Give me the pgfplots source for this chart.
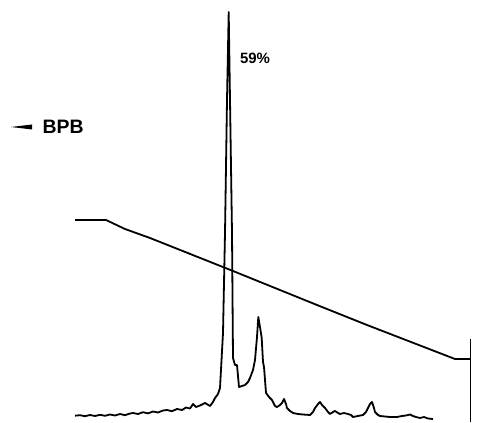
\documentclass[border=0pt]{standalone}
\usepackage{pgfplots}
\pgfplotsset{compat=1.18}
\usepackage{fontspec}
\setmainfont{Liberation Sans}
\begin{document}
\begin{tikzpicture}
\begin{axis}[
  width=477bp, height=422bp, scale only axis,
  xmin=0, xmax=477, ymin=0, ymax=422,
  hide axis, clip=false,
]
\path (rel axis cs:0,0) rectangle (rel axis cs:1,1);
% gradient (pixel coordinates, y measured upward: y = 422 - row)
\addplot[black, line width=1.8bp] coordinates {
 (75,202) (106,202) (125,193) (150,184) (233,151) (317,117) (367,97) (455,63) (470,63)
};
\addplot[black, line width=1.8bp] coordinates {(470.5,83) (470.5,0)};
% chromatogram trace
\addplot[black, line width=1.8bp, line join=round] coordinates {
 (75,6.3) (80,6.8) (85,5.8) (90,7) (95,6) (100,7.2) (105,6.2) (110,7.5) (115,6.5) (120,8) (125,6.8)
 (130,8.5) (133,9) (138,8) (143,9.8) (148,8.6) (153,10.5) (158,9.5) (163,11.5) (167,12) (172,10.8)
 (177,13) (182,12) (186,14.5) (190,13.5) (193,18) (196,15) (200,16.5) (205,19) (210,16) (213,20)
 (215,24) (218,28) (220,34) (223,89) (225,189) (227,322) (228.7,410) (230,322) (232,189)
 (233,64) (235,57) (237,57) (239,35) (242,36) (245,37) (248,40) (250,44) (253,52) (255,62)
 (257,85) (258.3,105) (260,95) (261.7,84) (263,60) (264,55) (266,29) (269,25) (272,22) (275,16)
 (277,15) (280,17) (282,19) (284,23) (286,18) (287,14) (290,11) (293,9) (298,8) (303,7.5) (310,7)
 (313,10) (315,14) (318,18) (320,20) (322,17) (325,14) (328,10) (330,8) (333,10) (335,11)
 (338,9) (340,8) (344,9) (348,8) (351,7) (353,5) (358,6) (363,7) (366,10) (368,14) (370,18)
 (372,20) (374,14) (375,10) (378,7) (380,6) (385,5.5) (390,5) (397,5) (402,6) (406,6.5) (410,7.5)
 (413,6) (416,5) (420,4) (424,5) (428,3.5) (433,3)
};
\fill[black] (axis cs:11,295) -- (axis cs:32,297.5) -- (axis cs:32,292.5) -- cycle;
\node[font=\bfseries\fontsize{19.5}{22}\selectfont, anchor=west] at (axis cs:39,295.5) {BPB};
\node[font=\fontsize{15}{18}\selectfont\bfseries, anchor=center] at (axis cs:255,364) {59\%};
\end{axis}
\end{tikzpicture}
\end{document}
